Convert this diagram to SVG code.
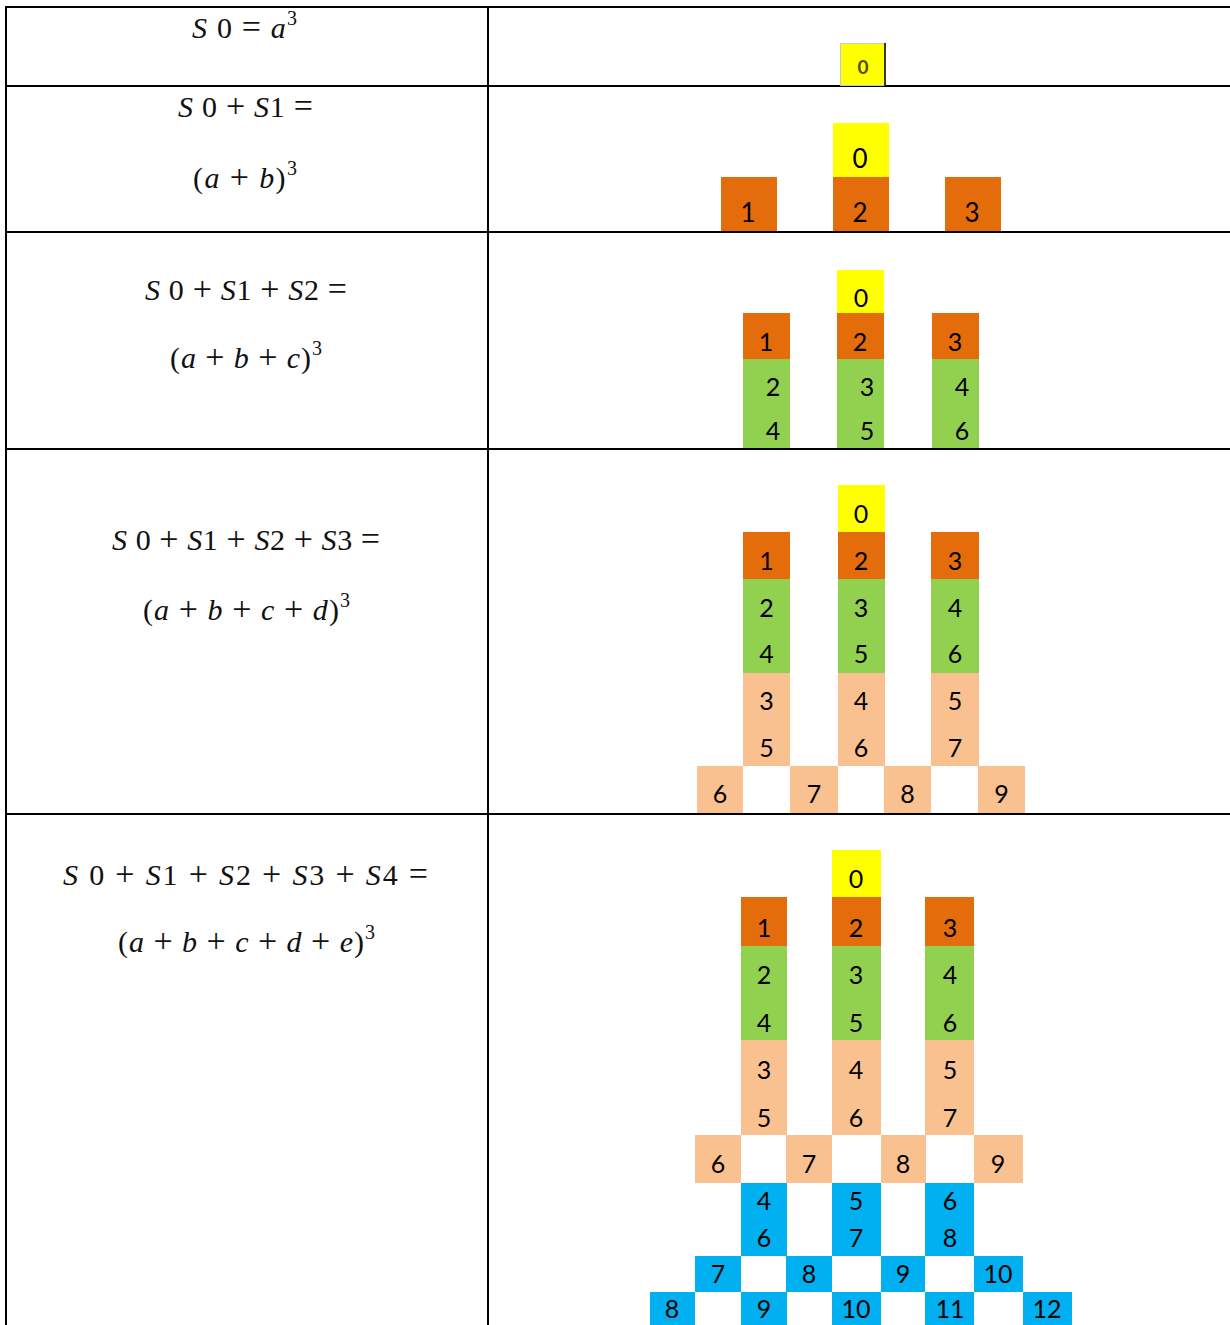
<svg xmlns="http://www.w3.org/2000/svg" width="1230" height="1325" viewBox="0 0 1230 1325">
  <style>
    .grid { stroke: #000; stroke-width: 2; fill: none; }
    .f { font-family: "Liberation Serif", "DejaVu Serif", serif; font-size: 30px; fill: #111; }
    .i { font-style: italic; }
    .op { font-size: 34px; }
    .sup { font-size: 20px; }
    .d { font-family: Lato, "Open Sans", "Liberation Sans", sans-serif; font-size: 25px; fill: #000; text-anchor: middle; }
    .d2 { font-size: 26px; }
    .Y { fill: #FFFF00; }
    .O { fill: #E46C0A; }
    .G { fill: #92D050; }
    .P { fill: #F9C090; }
    .B { fill: #00B0F0; }
  </style>

  <rect width="1230" height="1325" fill="#fff"/>

  <!-- table rules -->
  <g id="table" class="grid">
    <line x1="6" y1="7" x2="1230" y2="7"/>
    <line x1="6" y1="86" x2="1230" y2="86"/>
    <line x1="6" y1="232" x2="1230" y2="232"/>
    <line x1="6" y1="449" x2="1230" y2="449"/>
    <line x1="6" y1="814" x2="1230" y2="814"/>
    <line x1="6" y1="6" x2="6" y2="1325"/>
    <line x1="488" y1="6" x2="488" y2="1325"/>
  </g>

  <!-- formulas, left column -->
  <g id="formulas">
    <g id="f-row1">
      <text class="f" x="192" y="38" textLength="105" lengthAdjust="spacing"><tspan class="i">S</tspan> 0 <tspan class="op">=</tspan> <tspan class="i">a</tspan><tspan class="sup" dy="-13">3</tspan></text>
    </g>
    <g id="f-row2">
      <text class="f" x="178" y="117" textLength="135" lengthAdjust="spacing"><tspan class="i">S</tspan> 0 <tspan class="op">+</tspan> <tspan class="i">S</tspan>1 <tspan class="op">=</tspan></text>
      <text class="f" x="193" y="188" textLength="104" lengthAdjust="spacing">(<tspan class="i">a</tspan> <tspan class="op">+</tspan> <tspan class="i">b</tspan>)<tspan class="sup" dy="-13">3</tspan></text>
    </g>
    <g id="f-row3">
      <text class="f" x="145" y="300" textLength="202" lengthAdjust="spacing"><tspan class="i">S</tspan> 0 <tspan class="op">+</tspan> <tspan class="i">S</tspan>1 <tspan class="op">+</tspan> <tspan class="i">S</tspan>2 <tspan class="op">=</tspan></text>
      <text class="f" x="170" y="368" textLength="152" lengthAdjust="spacing">(<tspan class="i">a</tspan> <tspan class="op">+</tspan> <tspan class="i">b</tspan> <tspan class="op">+</tspan> <tspan class="i">c</tspan>)<tspan class="sup" dy="-13">3</tspan></text>
    </g>
    <g id="f-row4">
      <text class="f" x="112" y="550" textLength="268" lengthAdjust="spacing"><tspan class="i">S</tspan> 0 <tspan class="op">+</tspan> <tspan class="i">S</tspan>1 <tspan class="op">+</tspan> <tspan class="i">S</tspan>2 <tspan class="op">+</tspan> <tspan class="i">S</tspan>3 <tspan class="op">=</tspan></text>
      <text class="f" x="143" y="620" textLength="207" lengthAdjust="spacing">(<tspan class="i">a</tspan> <tspan class="op">+</tspan> <tspan class="i">b</tspan> <tspan class="op">+</tspan> <tspan class="i">c</tspan> <tspan class="op">+</tspan> <tspan class="i">d</tspan>)<tspan class="sup" dy="-13">3</tspan></text>
    </g>
    <g id="f-row5">
      <text class="f" x="63" y="885" textLength="365" lengthAdjust="spacing"><tspan class="i">S</tspan> 0 <tspan class="op">+</tspan> <tspan class="i">S</tspan>1 <tspan class="op">+</tspan> <tspan class="i">S</tspan>2 <tspan class="op">+</tspan> <tspan class="i">S</tspan>3 <tspan class="op">+</tspan> <tspan class="i">S</tspan>4 <tspan class="op">=</tspan></text>
      <text class="f" x="118" y="952" textLength="257" lengthAdjust="spacing">(<tspan class="i">a</tspan> <tspan class="op">+</tspan> <tspan class="i">b</tspan> <tspan class="op">+</tspan> <tspan class="i">c</tspan> <tspan class="op">+</tspan> <tspan class="i">d</tspan> <tspan class="op">+</tspan> <tspan class="i">e</tspan>)<tspan class="sup" dy="-13">3</tspan></text>
    </g>
  </g>

  <!-- stage 1: a^3 -->
  <g id="s1-0">
    <rect x="840.5" y="43.5" width="44.5" height="42" class="Y" stroke="#c8c8c8" stroke-width="1"/>
    <line x1="885" y1="43" x2="885" y2="86" stroke="#000" stroke-width="1.5"/>
    <text x="863" y="74" font-family="Lato, 'Open Sans', sans-serif" font-size="19" font-weight="bold" fill="#4d4d00" text-anchor="middle">0</text>
  </g>

  <!-- stage 2: (a+b)^3 -->
  <g id="s2-0"><rect x="833" y="123" width="56" height="54" class="Y"/><text class="d d2" x="860" y="168">0</text></g>
  <g id="s2-1"><rect x="721" y="177" width="56" height="54" class="O"/><text class="d d2" x="748" y="222">1</text></g>
  <g id="s2-2"><rect x="833" y="177" width="56" height="54" class="O"/><text class="d d2" x="860" y="222">2</text></g>
  <g id="s2-3"><rect x="945" y="177" width="56" height="54" class="O"/><text class="d d2" x="972" y="222">3</text></g>

  <!-- stage 3: (a+b+c)^3 -->
  <g id="s3-0"><rect x="837" y="270" width="47" height="43" class="Y"/><text class="d" x="861" y="307">0</text></g>
  <g id="s3-1"><rect x="743" y="313" width="47" height="46" class="O"/><text class="d" x="766" y="351">1</text></g>
  <g id="s3-2"><rect x="837" y="313" width="47" height="46" class="O"/><text class="d" x="860" y="351">2</text></g>
  <g id="s3-3"><rect x="932" y="313" width="47" height="46" class="O"/><text class="d" x="955" y="351">3</text></g>
  <g id="s3-g2"><rect x="743" y="359" width="47" height="45" class="G"/><text class="d" x="773" y="396">2</text></g>
  <g id="s3-g4"><rect x="743" y="404" width="47" height="44" class="G"/><text class="d" x="773" y="440">4</text></g>
  <g id="s3-g3"><rect x="837" y="359" width="47" height="45" class="G"/><text class="d" x="867" y="396">3</text></g>
  <g id="s3-g5"><rect x="837" y="404" width="47" height="44" class="G"/><text class="d" x="867" y="440">5</text></g>
  <g id="s3-g4b"><rect x="932" y="359" width="47" height="45" class="G"/><text class="d" x="962" y="396">4</text></g>
  <g id="s3-g6"><rect x="932" y="404" width="47" height="44" class="G"/><text class="d" x="962" y="440">6</text></g>

  <!-- stage 4: (a+b+c+d)^3 -->
  <g id="s4-0"><rect x="838" y="485" width="47" height="47" class="Y"/><text class="d" x="861" y="523">0</text></g>
  <g id="s4-1"><rect x="743" y="532" width="47" height="47" class="O"/><text class="d" x="766.5" y="570">1</text></g>
  <g id="s4-2"><rect x="838" y="532" width="47" height="47" class="O"/><text class="d" x="861" y="570">2</text></g>
  <g id="s4-3"><rect x="931" y="532" width="48" height="47" class="O"/><text class="d" x="955" y="570">3</text></g>
  <g id="s4-g2"><rect x="743" y="579" width="47" height="47" class="G"/><text class="d" x="766.5" y="617">2</text></g>
  <g id="s4-g4"><rect x="743" y="626" width="47" height="47" class="G"/><text class="d" x="766.5" y="663">4</text></g>
  <g id="s4-g3"><rect x="838" y="579" width="47" height="47" class="G"/><text class="d" x="861" y="617">3</text></g>
  <g id="s4-g5"><rect x="838" y="626" width="47" height="47" class="G"/><text class="d" x="861" y="663">5</text></g>
  <g id="s4-g4b"><rect x="931" y="579" width="48" height="47" class="G"/><text class="d" x="955" y="617">4</text></g>
  <g id="s4-g6"><rect x="931" y="626" width="48" height="47" class="G"/><text class="d" x="955" y="663">6</text></g>
  <g id="s4-p3"><rect x="743" y="673" width="47" height="47" class="P"/><text class="d" x="766.5" y="710">3</text></g>
  <g id="s4-p5"><rect x="743" y="720" width="47" height="46" class="P"/><text class="d" x="766.5" y="757">5</text></g>
  <g id="s4-p4"><rect x="838" y="673" width="47" height="47" class="P"/><text class="d" x="861" y="710">4</text></g>
  <g id="s4-p6"><rect x="838" y="720" width="47" height="46" class="P"/><text class="d" x="861" y="757">6</text></g>
  <g id="s4-p5b"><rect x="931" y="673" width="48" height="47" class="P"/><text class="d" x="955" y="710">5</text></g>
  <g id="s4-p7"><rect x="931" y="720" width="48" height="46" class="P"/><text class="d" x="955" y="757">7</text></g>
  <g id="s4-p6b"><rect x="697" y="766" width="46" height="47" class="P"/><text class="d" x="720" y="803">6</text></g>
  <g id="s4-p7b"><rect x="790" y="766" width="48" height="47" class="P"/><text class="d" x="814" y="803">7</text></g>
  <g id="s4-p8"><rect x="884" y="766" width="47" height="47" class="P"/><text class="d" x="907.5" y="803">8</text></g>
  <g id="s4-p9"><rect x="978" y="766" width="47" height="47" class="P"/><text class="d" x="1001.5" y="803">9</text></g>

  <!-- stage 5: (a+b+c+d+e)^3 -->
  <g id="s5-0"><rect x="832" y="850" width="49" height="47" class="Y"/><text class="d" x="856" y="888">0</text></g>
  <g id="s5-1"><rect x="741" y="897" width="46" height="49" class="O"/><text class="d" x="764" y="937">1</text></g>
  <g id="s5-2"><rect x="832" y="897" width="49" height="49" class="O"/><text class="d" x="856" y="937">2</text></g>
  <g id="s5-3"><rect x="925" y="897" width="49" height="49" class="O"/><text class="d" x="950" y="937">3</text></g>
  <g id="s5-g2"><rect x="741" y="946" width="46" height="47" class="G"/><text class="d" x="764" y="984">2</text></g>
  <g id="s5-g4"><rect x="741" y="993" width="46" height="47" class="G"/><text class="d" x="764" y="1032">4</text></g>
  <g id="s5-g3"><rect x="832" y="946" width="49" height="47" class="G"/><text class="d" x="856" y="984">3</text></g>
  <g id="s5-g5"><rect x="832" y="993" width="49" height="47" class="G"/><text class="d" x="856" y="1032">5</text></g>
  <g id="s5-g4b"><rect x="925" y="946" width="49" height="47" class="G"/><text class="d" x="950" y="984">4</text></g>
  <g id="s5-g6"><rect x="925" y="993" width="49" height="47" class="G"/><text class="d" x="950" y="1032">6</text></g>
  <g id="s5-p3"><rect x="741" y="1040" width="46" height="48" class="P"/><text class="d" x="764" y="1079">3</text></g>
  <g id="s5-p5"><rect x="741" y="1088" width="46" height="47" class="P"/><text class="d" x="764" y="1127">5</text></g>
  <g id="s5-p4"><rect x="832" y="1040" width="49" height="48" class="P"/><text class="d" x="856" y="1079">4</text></g>
  <g id="s5-p6"><rect x="832" y="1088" width="49" height="47" class="P"/><text class="d" x="856" y="1127">6</text></g>
  <g id="s5-p5b"><rect x="925" y="1040" width="49" height="48" class="P"/><text class="d" x="950" y="1079">5</text></g>
  <g id="s5-p7"><rect x="925" y="1088" width="49" height="47" class="P"/><text class="d" x="950" y="1127">7</text></g>
  <g id="s5-p6b"><rect x="695" y="1135" width="46" height="48" class="P"/><text class="d" x="718" y="1173">6</text></g>
  <g id="s5-p7b"><rect x="786" y="1135" width="46" height="48" class="P"/><text class="d" x="809" y="1173">7</text></g>
  <g id="s5-p8"><rect x="881" y="1135" width="45" height="48" class="P"/><text class="d" x="903" y="1173">8</text></g>
  <g id="s5-p9"><rect x="974" y="1135" width="49" height="48" class="P"/><text class="d" x="998" y="1173">9</text></g>
  <g id="s5-b4"><rect x="741" y="1183" width="46" height="37" class="B"/><text class="d" x="764" y="1210">4</text></g>
  <g id="s5-b6"><rect x="741" y="1220" width="46" height="36" class="B"/><text class="d" x="764" y="1247">6</text></g>
  <g id="s5-b5"><rect x="832" y="1183" width="49" height="37" class="B"/><text class="d" x="856" y="1210">5</text></g>
  <g id="s5-b7"><rect x="832" y="1220" width="49" height="36" class="B"/><text class="d" x="856" y="1247">7</text></g>
  <g id="s5-b6b"><rect x="925" y="1183" width="49" height="37" class="B"/><text class="d" x="950" y="1210">6</text></g>
  <g id="s5-b8"><rect x="925" y="1220" width="49" height="36" class="B"/><text class="d" x="950" y="1247">8</text></g>
  <g id="s5-b7b"><rect x="695" y="1256" width="46" height="36" class="B"/><text class="d" x="718" y="1283">7</text></g>
  <g id="s5-b8b"><rect x="786" y="1256" width="46" height="36" class="B"/><text class="d" x="809" y="1283">8</text></g>
  <g id="s5-b9"><rect x="881" y="1256" width="44" height="36" class="B"/><text class="d" x="903" y="1283">9</text></g>
  <g id="s5-b10"><rect x="974" y="1256" width="49" height="36" class="B"/><text class="d" x="998" y="1283">10</text></g>
  <g id="s5-b8c"><rect x="650" y="1292" width="45" height="33" class="B"/><text class="d" x="672" y="1318">8</text></g>
  <g id="s5-b9b"><rect x="741" y="1292" width="46" height="33" class="B"/><text class="d" x="764" y="1318">9</text></g>
  <g id="s5-b10b"><rect x="832" y="1292" width="49" height="33" class="B"/><text class="d" x="856" y="1318">10</text></g>
  <g id="s5-b11"><rect x="925" y="1292" width="49" height="33" class="B"/><text class="d" x="950" y="1318">11</text></g>
  <g id="s5-b12"><rect x="1023" y="1292" width="49" height="33" class="B"/><text class="d" x="1047" y="1318">12</text></g>
</svg>
